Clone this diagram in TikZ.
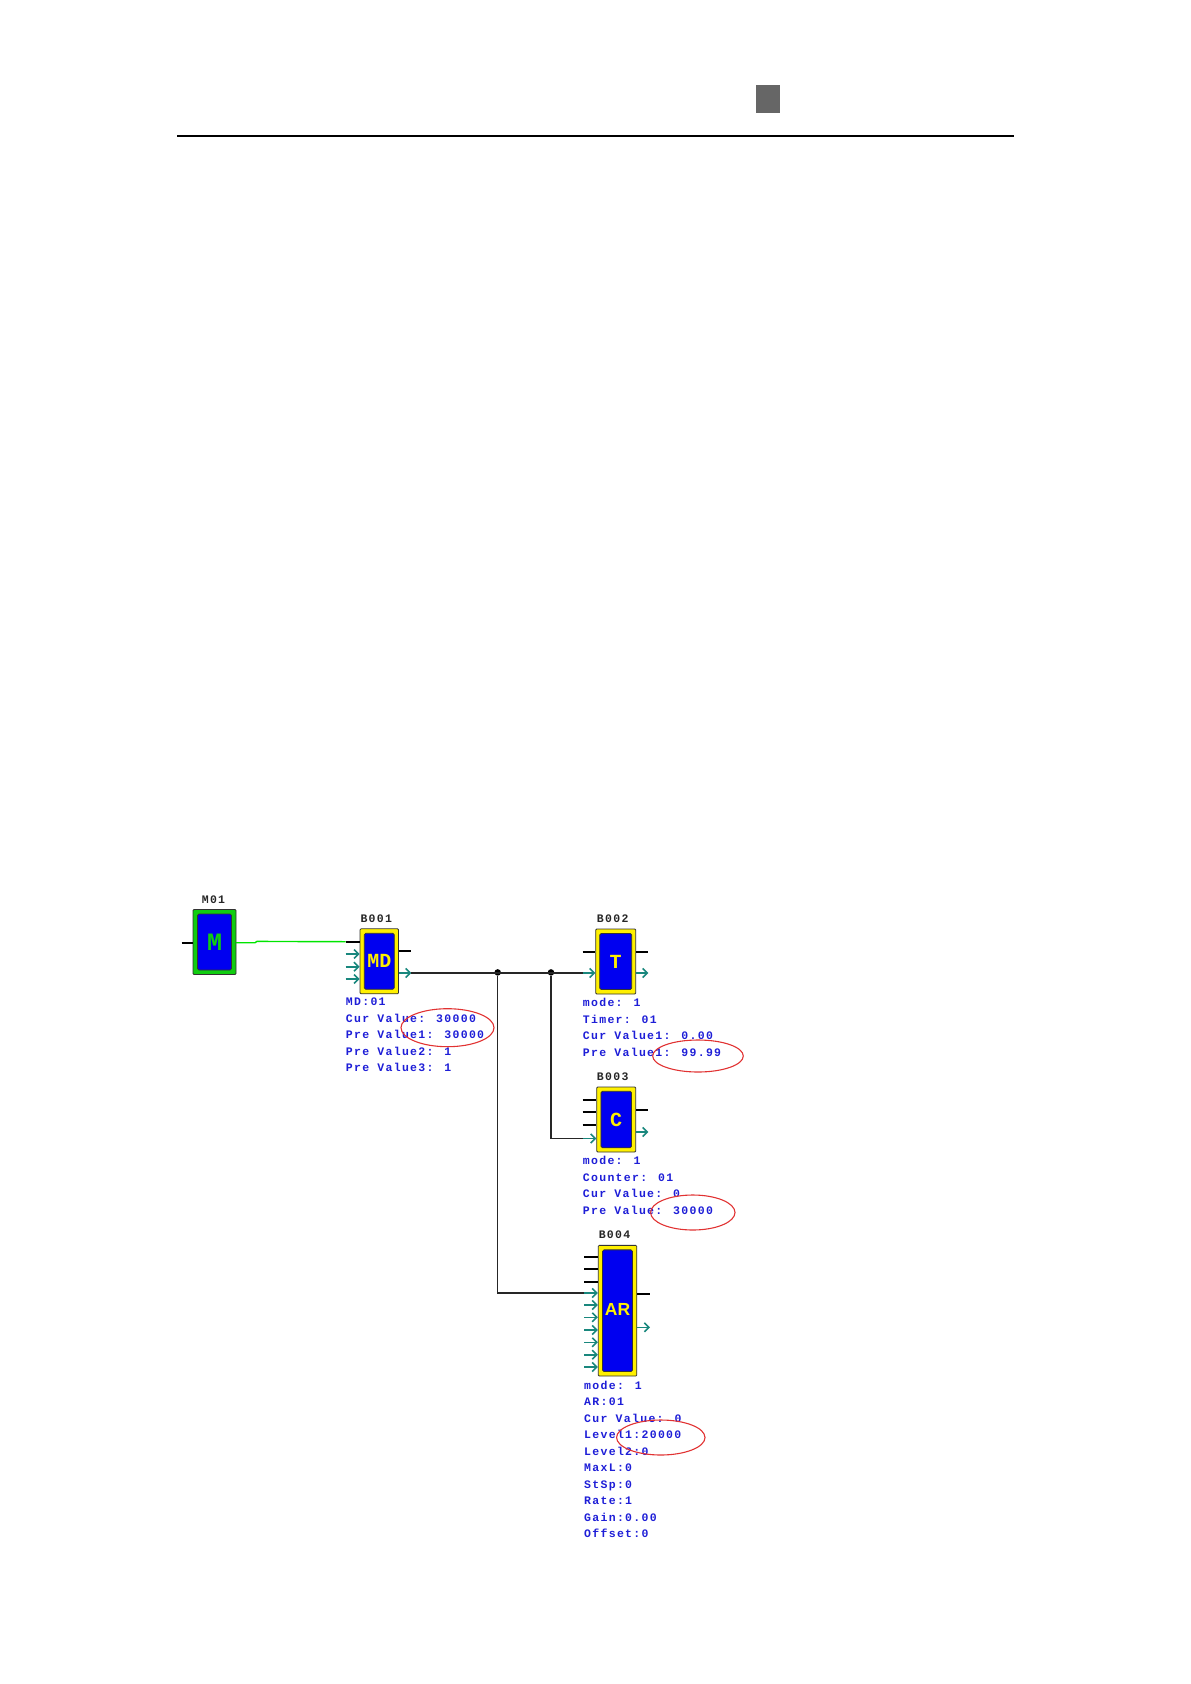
\documentclass[tikz,border=0pt]{standalone}
\usepackage{fontspec}
\newfontfamily\blockmono[LetterSpace=11.3]{Liberation Mono}
\newfontfamily\blockglyph{Liberation Mono}
\newfontfamily\blocksans{Liberation Sans}
\usetikzlibrary{arrows.meta, positioning, shapes.geometric}
\definecolor{coreblue}{RGB}{0,0,240}
\definecolor{boxyellow}{RGB}{255,240,0}
\definecolor{boxgreen}{RGB}{16,205,16}
\definecolor{pinteal}{RGB}{25,135,125}
\definecolor{infoblue}{RGB}{30,30,215}
\definecolor{ringred}{RGB}{225,50,50}

\begin{document}
\begin{tikzpicture}[
    x=1pt, y=-1pt,
    box/.style={rectangle, draw=black!80, line width=0.8pt, rounded corners=1pt, fill=boxyellow, inner sep=0pt},
    core/.style={rectangle, draw=black!80, line width=0.8pt, rounded corners=1.5pt, fill=coreblue, inner sep=0pt, text=boxyellow, font=\blockglyph\bfseries\fontsize{20}{20}\selectfont},
    tag/.style={inner sep=0pt, text=black!85, font=\blockmono\bfseries\fontsize{11.5}{11.5}\selectfont},
    info/.style={anchor=north west, inner sep=0pt, align=left, text=infoblue, font=\blockmono\bfseries\fontsize{11.5}{16.5}\selectfont},
    ring/.style={ellipse, draw=ringred, line width=1.1pt, inner sep=0pt},
    dot/.style={circle, fill=black, inner sep=0pt, minimum size=6.5pt},
    stub/.style={line width=2pt, black},
    pin/.style={-{Straight Barb[length=4.5pt, width=9pt]}, line width=1.6pt, pinteal},
    wire/.style={line width=1.2pt, black!85},
    glink/.style={line width=1.4pt, green!90!black},
]
\useasboundingbox (0,0) rectangle (1191,1684);

% Page head
\node[rectangle, fill=black!60, minimum width=24pt, minimum height=28pt, inner sep=0pt] (mark) at (768,99) {};
\coordinate (ruleL) at (177,136.3);
\coordinate (ruleR) at (1014,136.3);
\draw[line width=2pt] (ruleL) -- (ruleR);

% Blocks
\node[box, fill=boxgreen, minimum width=43pt, minimum height=65pt] (m1) at (214.5,942) {};
\node[core, text=boxgreen, minimum width=34pt, minimum height=56pt, font=\blockglyph\bfseries\fontsize{25}{25}\selectfont] (m1core) at (m1) {M};
\node[box, minimum width=38.5pt, minimum height=65pt] (b1) at (379.3,961.3) {};
\node[core, minimum width=30pt, minimum height=56pt] (b1core) at (b1) {MD};
\node[box, minimum width=40pt, minimum height=65pt] (b2) at (615.7,961.5) {};
\node[core, minimum width=32pt, minimum height=56pt] (b2core) at (b2) {T};
\node[box, minimum width=39pt, minimum height=65pt] (b3) at (616.2,1119.5) {};
\node[core, minimum width=30.5pt, minimum height=56.5pt] (b3core) at (b3) {C};
\node[box, minimum width=38.5pt, minimum height=130.7pt] (b4) at (617.5,1310.7) {};
\node[core, minimum width=30pt, minimum height=121.7pt, font=\blocksans\bfseries\fontsize{17.5}{17.5}\selectfont] (b4core) at (b4) {\raisebox{2pt}{AR}};

% Block names
\node[tag, above=5.5pt of m1, xshift=-1pt] (m1tag) {M01};
\node[tag, above=5.5pt of b1, xshift=-3pt] (b1tag) {B001};
\node[tag, above=5.5pt of b2, xshift=-3pt] (b2tag) {B002};
\node[tag, above=5.5pt of b3, xshift=-3.5pt] (b3tag) {B003};
\node[tag, above=6pt of b4, xshift=-3pt] (b4tag) {B004};

% Block data
\node[info] (b1info) at (345.7,997.8) {MD:01\\Cur Value: 30000\\Pre Value1: 30000\\Pre Value2: 1\\Pre Value3: 1};
\node[info] (b2info) at (582.7,998) {mode: 1\\Timer: 01\\Cur Value1: 0.00\\Pre Value1: 99.99};
\node[info] (b3info) at (582.7,1156) {mode: 1\\Counter: 01\\Cur Value: 0\\Pre Value: 30000};
\node[info] (b4info) at (584,1380.5) {mode: 1\\AR:01\\Cur Value: 0\\Level1:20000\\Level2:0\\MaxL:0\\StSp:0\\Rate:1\\Gain:0.00\\Offset:0};

% Pin ends
\coordinate (m1a) at (181.7,942.7);
\coordinate (m1q) at (236,942.7);
\coordinate (b1a) at (345.7,941.7);
\coordinate (b1b) at (345.7,954);
\coordinate (b1c) at (345.7,966.7);
\coordinate (b1d) at (345.7,979);
\coordinate (b1q) at (411.3,951.3);
\coordinate (b1r) at (411.3,973);
\coordinate (b2a) at (582.7,951.7);
\coordinate (b2b) at (582.7,973);
\coordinate (b2q) at (648.3,951.7);
\coordinate (b2r) at (648.3,973);
\coordinate (b3a) at (582.7,1100);
\coordinate (b3b) at (582.7,1112.3);
\coordinate (b3c) at (582.7,1125);
\coordinate (b3d) at (582.7,1138.5);
\coordinate (b3q) at (648.3,1110);
\coordinate (b3r) at (648.3,1132);
\coordinate (b4a) at (584,1256.7);
\coordinate (b4b) at (584,1269.3);
\coordinate (b4c) at (584,1281.7);
\coordinate (b4d) at (584,1293);
\coordinate (b4e) at (584,1305);
\coordinate (b4f) at (584,1317.3);
\coordinate (b4g) at (584,1330);
\coordinate (b4h) at (584,1342.3);
\coordinate (b4i) at (584,1354.7);
\coordinate (b4j) at (584,1367);
\coordinate (b4q) at (650,1294);
\coordinate (b4r) at (650,1327.3);

% Pins
\draw[stub] (m1a) -- (m1a -| m1.west);
\draw[stub] (b1a) -- (b1a -| b1.west);
\draw[pin] (b1b) -- (b1b -| b1.west);
\draw[pin] (b1c) -- (b1c -| b1.west);
\draw[pin] (b1d) -- (b1d -| b1.west);
\draw[stub] (b1q -| b1.east) -- (b1q);
\draw[pin] (b1r -| b1.east) -- (b1r);
\draw[stub] (b2a) -- (b2a -| b2.west);
\draw[pin] (b2b) -- (b2b -| b2.west);
\draw[stub] (b2q -| b2.east) -- (b2q);
\draw[pin] (b2r -| b2.east) -- (b2r);
\draw[stub] (b3a) -- (b3a -| b3.west);
\draw[stub] (b3b) -- (b3b -| b3.west);
\draw[stub] (b3c) -- (b3c -| b3.west);
\draw[pin] (b3d) -- (b3d -| b3.west);
\draw[stub] (b3q -| b3.east) -- (b3q);
\draw[pin] (b3r -| b3.east) -- (b3r);
\draw[stub] (b4a) -- (b4a -| b4.west);
\draw[stub] (b4b) -- (b4b -| b4.west);
\draw[stub] (b4c) -- (b4c -| b4.west);
\draw[pin] (b4d) -- (b4d -| b4.west);
\draw[pin] (b4e) -- (b4e -| b4.west);
\draw[pin] (b4f) -- (b4f -| b4.west);
\draw[pin] (b4g) -- (b4g -| b4.west);
\draw[pin] (b4h) -- (b4h -| b4.west);
\draw[pin] (b4i) -- (b4i -| b4.west);
\draw[pin] (b4j) -- (b4j -| b4.west);
\draw[stub] (b4q -| b4.east) -- (b4q);
\draw[pin] (b4r -| b4.east) -- (b4r);

% Wires
\node[dot] (j1) at (497.7,972.4) {};
\node[dot] (j2) at (551,972.4) {};
\draw[glink] (m1q) -- ++(19,0) -- ++(2,-1.3) -- (b1a);
\draw[wire] (b1r) -- (b2b);
\draw[wire] (j2) |- (b3d);
\draw[wire] (j1) |- (b4d);

% Red marks
\node[ring, minimum width=93pt, minimum height=38pt] (ring1) at (447.5,1027.7) {};
\node[ring, minimum width=90.6pt, minimum height=32pt] (ring2) at (698,1056) {};
\node[ring, minimum width=84.4pt, minimum height=35pt] (ring3) at (692.8,1212.5) {};
\node[ring, minimum width=88.4pt, minimum height=35pt] (ring4) at (660.8,1437.5) {};

\end{tikzpicture}
\end{document}
